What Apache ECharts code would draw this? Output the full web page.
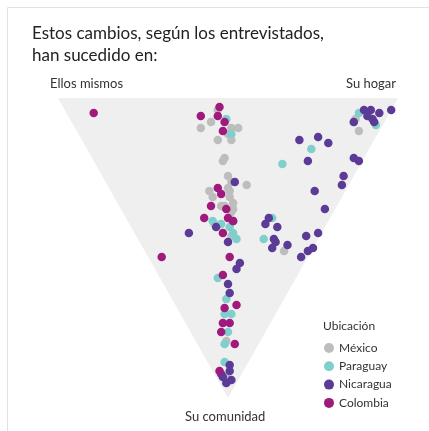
<!DOCTYPE html>
<html><head><meta charset="utf-8">
<script src="https://cdn.jsdelivr.net/npm/echarts@6/dist/echarts.min.js"></script>
<style>html,body{margin:0;padding:0;background:#fff}#c{width:429px;height:431px}</style>
</head><body><div id="c"></div>
<script>
const titleText = 'Estos cambios, según los entrevistados,\nhan sucedido en:';
const cornerLabels = ['Ellos mismos', 'Su hogar', 'Su comunidad'];
const countries = ['México', 'Paraguay', 'Nicaragua', 'Colombia'];
const colors = ['#bdbdbd', '#7fcfcc', '#5c3b97', '#a0197d'];
// Each point: [share "Su hogar" %, share "Su comunidad" %]; "Ellos mismos" = remainder
const mexico = [[45,4],[41,8],[37,10],[46,10],[48,10],[44,12],[44,14],[40,14],[39,20],[38,21],[37,26],[37,28],[41,29],[29,31],[35,30],[35,31],[29,33],[34,33],[34,35],[30,36],[33,37],[31,36],[32,38],[25,42],[28,46],[41,51],[84,7],[83,8],[83,11],[9,81],[3,93]];
const paraguay = [[46,7],[45,12],[86,5],[89,9],[66,17],[55,22],[43,40],[37,47],[25,41],[27,42],[29,43],[29,47],[17,60],[16,67],[13,72],[15,72],[11,78],[8,82],[5,88],[29,45]];
const nicaragua = [[88,4],[90,4],[88,6],[89,7],[92,5],[96,4],[83,8],[89,8],[64,14],[70,13],[72,15],[63,21],[77,20],[78,21],[71,26],[69,29],[60,31],[60,37],[54,45],[50,46],[50,50],[48,51],[45,53],[42,40],[40,42],[43,43],[40,47],[40,48],[38,50],[43,49],[38,28],[31,41],[25,43],[26,48],[16,45],[26,55],[24,57],[19,62],[18,65],[6,89],[5,91],[2,92],[4,94],[2,95],[2,93]];
const colombia = [[8,5],[4,53],[46,3],[44,6],[39,6],[45,8],[43,11],[32,30],[32,32],[27,36],[31,37],[23,40],[30,40],[31,41],[26,45],[24,53],[19,59],[18,69],[14,70],[11,75],[13,75],[9,78],[11,82],[2,91]];
// triangle corners in [hogar, comunidad] shares: Ellos mismos, Su hogar, Su comunidad
const corners = [[0,0],[100,0],[0,100]];
const seriesData = [mexico, paraguay, nicaragua, colombia];

function proj(p){ return [p[0] + p[1] / 2, p[1]]; }

const chart = echarts.init(document.getElementById('c'), null, {renderer: 'canvas'});
const font = 'Lato, "Open Sans", sans-serif';
const series = [{
  type: 'custom',
  silent: true,
  z: 0,
  data: [0],
  renderItem: function(params, api){
    const pts = corners.map(c => api.coord(proj(c)));
    return {type: 'polygon', shape: {points: pts}, style: {fill: '#efefef'}};
  }
}];
countries.forEach((name, i) => {
  series.push({
    name: name,
    type: 'scatter',
    symbol: 'circle',
    symbolSize: 8.5,
    z: 2 + i,
    itemStyle: {color: colors[i], opacity: 1},
    data: seriesData[i].map(proj)
  });
});

chart.setOption({
  animation: false,
  title: {
    text: titleText, left: 27, top: 18,
    textStyle: {fontFamily: font, fontSize: 17, fontWeight: 'normal', color: '#222', lineHeight: 22}
  },
  grid: {left: 58, right: 31, top: 98, bottom: 33},
  xAxis: {type: 'value', min: 0, max: 100, show: false},
  yAxis: {type: 'value', min: 0, max: 100, inverse: true, show: false},
  legend: {
    data: countries, orient: 'vertical', left: 319, top: 337,
    icon: 'circle', itemWidth: 10, itemHeight: 10, itemGap: 6.3,
    textStyle: {fontFamily: font, fontSize: 12, color: '#333'},
    selectedMode: false
  },
  graphic: [
    {type: 'rect', shape: {x: 7.5, y: 7.5, width: 600, height: 600}, style: {fill: 'none', stroke: '#e2e2e2', lineWidth: 1}, z: -10},
    {type: 'text', left: 50, top: 77, style: {text: cornerLabels[0], font: '13px ' + font, fill: '#333'}},
    {type: 'text', right: 33, top: 77, style: {text: cornerLabels[1], font: '13px ' + font, fill: '#333'}},
    {type: 'text', left: 185, top: 410, style: {text: cornerLabels[2], font: '13px ' + font, fill: '#333'}},
    {type: 'text', left: 323, top: 320, style: {text: 'Ubicación', font: '12px ' + font, fill: '#333'}}
  ],
  series: series
});
</script></body></html>
